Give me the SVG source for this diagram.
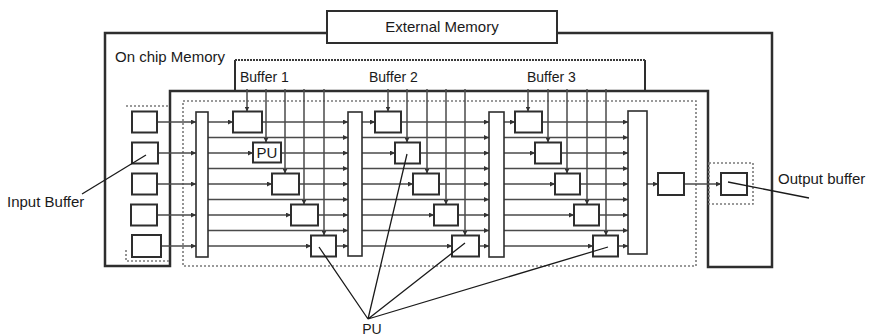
<svg xmlns="http://www.w3.org/2000/svg" width="873" height="336" viewBox="0 0 873 336">
  <style>
    .bg { fill: #ffffff; }
    .frame { fill: none; stroke: #2e2e2e; stroke-width: 2.5; }
    .box { fill: #ffffff; stroke: #2e2e2e; stroke-width: 2; }
    .bar { fill: #ffffff; stroke: #2e2e2e; stroke-width: 1.6; }
    .dots { fill: none; stroke: #7a7a7a; stroke-width: 1.6; stroke-dasharray: 2 2; }
    .wire { fill: none; stroke: #4a4a4a; stroke-width: 1.5; }
    .lead { fill: none; stroke: #1a1a1a; stroke-width: 1.3; }
    .lbl { font-family: "Liberation Sans", Arial, sans-serif; font-size: 15px; fill: #1a1a1a; }
    .lbl-s { font-family: "Liberation Sans", Arial, sans-serif; font-size: 14px; fill: #1a1a1a; }
  </style>
  <defs>
    <marker id="arr" viewBox="0 0 6 6" refX="6" refY="3" markerWidth="5" markerHeight="5" markerUnits="userSpaceOnUse" orient="auto">
      <path d="M0,0 L6,3 L0,6 z" fill="#333333"/>
    </marker>
  </defs>

  <rect class="bg" x="0" y="0" width="873" height="336"/>

  <!-- on-chip memory outline -->
  <g id="on-chip-memory">
    <path class="frame" d="M105,33 H772 V267 H708 V91 H170 V266 H105 Z"/>
    <text class="lbl" x="115" y="62">On chip Memory</text>
  </g>

  <!-- external memory -->
  <g id="external-memory">
    <rect class="box" x="327" y="11" width="230" height="32"/>
    <text class="lbl" x="442" y="32" text-anchor="middle">External Memory</text>
  </g>

  <!-- weight buffers -->
  <g id="buffers">
    <path class="frame" style="stroke-width:2" d="M235,90 V60 M645,60 V90"/>
    <path class="dots" style="stroke:#3a3a3a;stroke-width:1.8;stroke-dasharray:2 1" d="M235,60 H645"/>
    <text class="lbl-s" x="240" y="82">Buffer 1</text>
    <text class="lbl-s" x="369" y="82">Buffer 2</text>
    <text class="lbl-s" x="527" y="82">Buffer 3</text>
  </g>

  <!-- dotted regions -->
  <g id="regions">
    <rect class="dots" x="183" y="101" width="513" height="165"/>
    <path class="dots" d="M126,106 H170 M126,250 V261 H170"/>
    <rect class="dots" x="709" y="163" width="44" height="41"/>
  </g>

  <!-- connectors -->
  <g id="connectors">
    <!-- input buffers to first bar -->
    <path class="wire" marker-end="url(#arr)" d="M157,122 H196"/>
    <path class="wire" marker-end="url(#arr)" d="M157,153 H196"/>
    <path class="wire" marker-end="url(#arr)" d="M157,184 H196"/>
    <path class="wire" marker-end="url(#arr)" d="M157,215 H196"/>
    <path class="wire" marker-end="url(#arr)" d="M161,246 H196"/>

    <!-- stage 1 -->
    <path class="wire" marker-end="url(#arr)" d="M208,122 H233"/>
    <path class="wire" marker-end="url(#arr)" d="M262,122 H348"/>
    <path class="wire" marker-end="url(#arr)" d="M208,137.5 H348"/>
    <path class="wire" marker-end="url(#arr)" d="M208,153 H253"/>
    <path class="wire" marker-end="url(#arr)" d="M280,153 H348"/>
    <path class="wire" marker-end="url(#arr)" d="M208,168.5 H348"/>
    <path class="wire" marker-end="url(#arr)" d="M208,184 H272"/>
    <path class="wire" marker-end="url(#arr)" d="M299,184 H348"/>
    <path class="wire" marker-end="url(#arr)" d="M208,199.5 H348"/>
    <path class="wire" marker-end="url(#arr)" d="M208,215 H291"/>
    <path class="wire" marker-end="url(#arr)" d="M318,215 H348"/>
    <path class="wire" marker-end="url(#arr)" d="M208,230.5 H348"/>
    <path class="wire" marker-end="url(#arr)" d="M208,246 H311"/>
    <path class="wire" marker-end="url(#arr)" d="M336,246 H348"/>
    <path class="wire" marker-end="url(#arr)" d="M247,89 V111.5"/>
    <path class="wire" marker-end="url(#arr)" d="M266,89 V142.5"/>
    <path class="wire" marker-end="url(#arr)" d="M285,89 V173.5"/>
    <path class="wire" marker-end="url(#arr)" d="M304,89 V204.5"/>
    <path class="wire" marker-end="url(#arr)" d="M324,89 V235.5"/>

    <!-- stage 2 -->
    <path class="wire" marker-end="url(#arr)" d="M362,122 H375"/>
    <path class="wire" marker-end="url(#arr)" d="M401,122 H489"/>
    <path class="wire" marker-end="url(#arr)" d="M362,137.5 H489"/>
    <path class="wire" marker-end="url(#arr)" d="M362,153 H395"/>
    <path class="wire" marker-end="url(#arr)" d="M420,153 H489"/>
    <path class="wire" marker-end="url(#arr)" d="M362,168.5 H489"/>
    <path class="wire" marker-end="url(#arr)" d="M362,184 H413"/>
    <path class="wire" marker-end="url(#arr)" d="M439,184 H489"/>
    <path class="wire" marker-end="url(#arr)" d="M362,199.5 H489"/>
    <path class="wire" marker-end="url(#arr)" d="M362,215 H434"/>
    <path class="wire" marker-end="url(#arr)" d="M458,215 H489"/>
    <path class="wire" marker-end="url(#arr)" d="M362,230.5 H489"/>
    <path class="wire" marker-end="url(#arr)" d="M362,246 H452"/>
    <path class="wire" marker-end="url(#arr)" d="M479,246 H489"/>
    <path class="wire" marker-end="url(#arr)" d="M388,89 V111.5"/>
    <path class="wire" marker-end="url(#arr)" d="M407,89 V142.5"/>
    <path class="wire" marker-end="url(#arr)" d="M427,89 V173.5"/>
    <path class="wire" marker-end="url(#arr)" d="M446,89 V204.5"/>
    <path class="wire" marker-end="url(#arr)" d="M465,89 V235.5"/>

    <!-- stage 3 -->
    <path class="wire" marker-end="url(#arr)" d="M504,122 H515"/>
    <path class="wire" marker-end="url(#arr)" d="M542,122 H628"/>
    <path class="wire" marker-end="url(#arr)" d="M504,137.5 H628"/>
    <path class="wire" marker-end="url(#arr)" d="M504,153 H535"/>
    <path class="wire" marker-end="url(#arr)" d="M561,153 H628"/>
    <path class="wire" marker-end="url(#arr)" d="M504,168.5 H628"/>
    <path class="wire" marker-end="url(#arr)" d="M504,184 H555"/>
    <path class="wire" marker-end="url(#arr)" d="M580,184 H628"/>
    <path class="wire" marker-end="url(#arr)" d="M504,199.5 H628"/>
    <path class="wire" marker-end="url(#arr)" d="M504,215 H574"/>
    <path class="wire" marker-end="url(#arr)" d="M599,215 H628"/>
    <path class="wire" marker-end="url(#arr)" d="M504,230.5 H628"/>
    <path class="wire" marker-end="url(#arr)" d="M504,246 H593"/>
    <path class="wire" marker-end="url(#arr)" d="M618,246 H628"/>
    <path class="wire" marker-end="url(#arr)" d="M528,89 V111.5"/>
    <path class="wire" marker-end="url(#arr)" d="M548,89 V142.5"/>
    <path class="wire" marker-end="url(#arr)" d="M567,89 V173.5"/>
    <path class="wire" marker-end="url(#arr)" d="M587,89 V204.5"/>
    <path class="wire" marker-end="url(#arr)" d="M606,89 V235.5"/>

    <!-- output path -->
    <path class="wire" marker-end="url(#arr)" d="M647,184 H658"/>
    <path class="wire" marker-end="url(#arr)" d="M684,184 H721"/>
  </g>

  <!-- input buffers -->
  <g id="input-buffers">
    <rect class="box" x="132" y="111.5" width="25" height="21"/>
    <rect class="box" x="132" y="142.5" width="26" height="21"/>
    <rect class="box" x="132" y="173.5" width="25" height="21"/>
    <rect class="box" x="131" y="204.5" width="26" height="21"/>
    <rect class="box" x="132" y="235" width="29" height="22"/>
  </g>

  <!-- distribution bars -->
  <g id="bar-1"><rect class="bar" x="196" y="112" width="12" height="145"/></g>
  <g id="bar-2"><rect class="bar" x="348" y="112" width="14" height="144"/></g>
  <g id="bar-3"><rect class="bar" x="489" y="112" width="15" height="145"/></g>
  <g id="bar-4"><rect class="bar" x="628" y="111" width="19" height="143"/></g>

  <!-- processing units, stage 1 -->
  <g id="stage-1">
    <rect class="box" x="233" y="111.5" width="29" height="21"/>
    <rect class="box" x="253" y="142.5" width="28" height="20"/>
    <text class="lbl" x="267" y="158" text-anchor="middle">PU</text>
    <rect class="box" x="272" y="173.5" width="27" height="21"/>
    <rect class="box" x="291" y="204.5" width="27" height="21"/>
    <rect class="box" x="311" y="235.5" width="25" height="21"/>
  </g>

  <!-- processing units, stage 2 -->
  <g id="stage-2">
    <rect class="box" x="375" y="111.5" width="26" height="21"/>
    <rect class="box" x="395" y="142.5" width="25" height="21"/>
    <rect class="box" x="413" y="173.5" width="26" height="21"/>
    <rect class="box" x="434" y="204.5" width="24" height="21"/>
    <rect class="box" x="452" y="235.5" width="27" height="21"/>
  </g>

  <!-- processing units, stage 3 -->
  <g id="stage-3">
    <rect class="box" x="515" y="111.5" width="27" height="21"/>
    <rect class="box" x="535" y="142.5" width="26" height="21"/>
    <rect class="box" x="555" y="173.5" width="25" height="21"/>
    <rect class="box" x="574" y="204.5" width="25" height="21"/>
    <rect class="box" x="593" y="235.5" width="25" height="21"/>
  </g>

  <!-- output stage -->
  <g id="output-reg"><rect class="box" x="658" y="173" width="26" height="22"/></g>
  <g id="output-buffer"><rect class="box" x="721" y="173" width="26" height="22"/></g>

  <!-- callouts -->
  <g id="callout-input">
    <path class="lead" d="M82,194 L146,155"/>
    <text class="lbl" x="7" y="207">Input Buffer</text>
  </g>
  <g id="callout-output">
    <path class="lead" d="M728,182 L809,198"/>
    <text class="lbl" x="778" y="184">Output buffer</text>
  </g>
  <g id="callout-pu">
    <path class="lead" d="M368,319 L319,247 M368,319 L407,154 M368,319 L465,243 M368,319 L608,247"/>
    <text class="lbl-s" x="372" y="334" text-anchor="middle">PU</text>
  </g>
</svg>
